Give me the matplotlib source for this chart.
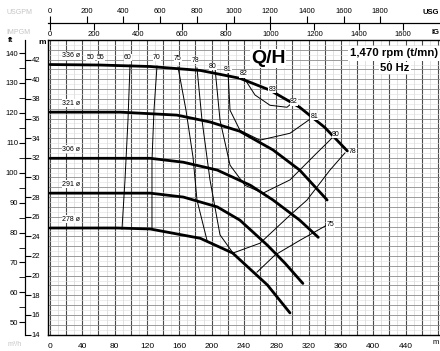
import matplotlib
matplotlib.use("Agg")
import matplotlib.pyplot as plt
import numpy as np

plt.rcParams['font.family'] = ['Liberation Sans', 'DejaVu Sans']

# Q/H curves, flow in m3/h, head in m, one per impeller diameter
q_336 = [0, 62, 124, 186, 235, 272, 309, 340, 368]
h_336 = [41.5, 41.45, 41.3, 40.9, 40.1, 38.9, 37.15, 35.1, 32.7]
q_321 = [0, 87, 157, 198, 235, 276, 309, 343]
h_321 = [36.65, 36.65, 36.35, 35.65, 34.7, 32.8, 30.75, 27.7]
q_306 = [0, 124, 165, 207, 248, 276, 309, 332]
h_306 = [31.95, 31.95, 31.55, 30.75, 29.2, 27.7, 25.65, 23.9]
q_291 = [0, 124, 165, 207, 235, 269, 291, 313]
h_291 = [28.4, 28.4, 28.0, 27.0, 25.65, 23.1, 21.25, 19.2]
q_278 = [0, 83, 124, 186, 226, 269, 297]
h_278 = [24.85, 24.85, 24.75, 23.8, 22.3, 19.05, 16.2]
diameters = ["336", "321", "306", "291", "278"]

# iso-efficiency lines (%)
eff_60_q = [99, 96.5, 92.8, 89.1]
eff_60_h = [41.45, 35.85, 29.75, 24.75]
eff_70_q = [132.4, 128.7, 126.2, 126.2]
eff_70_h = [41.35, 36.85, 31.75, 24.7]
eff_75_q = [158.4, 168.3, 177.0, 181.9, 194.3]
eff_75_h = [41.25, 36.85, 32.05, 27.7, 23.6]
eff_78_q = [181.9, 188.1, 198.0, 210.4, 226.5, 259.9, 297.0, 318.1, 346.5, 365.1]
eff_78_h = [41.15, 35.85, 29.75, 24.15, 22.3, 23.3, 26.15, 27.7, 30.75, 32.5]
eff_80_q = [204.2, 210.4, 222.8, 241.3, 263.6, 297.0, 327.9, 352.6]
eff_80_h = [41.15, 35.85, 31.25, 29.2, 28.4, 29.75, 32.3, 34.3]
eff_81_q = [220.3, 222.8, 235.1, 259.9, 297.0, 325.5]
eff_81_h = [40.75, 36.85, 34.8, 33.8, 34.5, 36.15]
eff_82_q = [238.9, 253.7, 272.3, 293.3, 300.7]
eff_82_h = [40.3, 38.4, 37.35, 37.15, 37.65]
eff_75r_q = [342.8, 309.4, 278.5, 256.2]
eff_75r_h = [25.15, 23.6, 22.1, 20.35]
eff_labels = ["50", "55", "60", "70", "75", "78", "80", "81", "82",
              "83", "82", "81", "80", "78", "75"]
eff_label_q = [50, 63, 96.5, 132.4, 158.4, 179.5, 201.7, 220.3, 239.5,
               275, 302, 327, 354, 375, 347]
eff_label_h = [42.2, 42.2, 42.2, 42.2, 42.1, 41.9, 41.3, 41.0, 40.55,
               39.0, 37.7, 36.2, 34.4, 32.6, 25.2]


# unit conversions for the extra scales
def m2ft(h):
    return h * 3.2808


def ft2m(h):
    return h / 3.2808


def q2usg(q):
    return q * 4.403


def usg2q(q):
    return q / 4.403


def q2ig(q):
    return q * 3.666


def ig2q(q):
    return q / 3.666


fig = plt.figure(figsize=(4.4, 3.51), dpi=100)
ax = fig.add_axes([48 / 440, 16 / 351, 392 / 440, 295 / 351])
ax.set_xlim(-2.5, 482.7)
ax.set_ylim(13.95, 44.0)

# background grid like the scanned paper
for q in np.arange(10, 490, 20):
    ax.axvline(q, color="#d2d2d2", lw=0.45, zorder=0)
for q in np.arange(0, 490, 20):
    ax.axvline(q, color="#4a4a4a", lw=0.8, zorder=0)
for h in np.arange(14.5, 44, 1):
    ax.axhline(h, color="#dedede", lw=0.4, zorder=0)
for h in np.arange(14, 44, 1):
    ax.axhline(h, color="#8c8c8c", lw=0.6, zorder=0)

curves = [(q_336, h_336), (q_321, h_321), (q_306, h_306), (q_291, h_291), (q_278, h_278)]
for (q, h), d in zip(curves, diameters):
    ax.plot(q, h, color="black", lw=2.0, solid_capstyle="round", zorder=3)
    ax.text(15, h[0] + 0.55, d + " ø", fontsize=5, ha="left", va="bottom", zorder=4,
            bbox=dict(facecolor="white", edgecolor="none", pad=0.3))

effs = [(eff_60_q, eff_60_h), (eff_70_q, eff_70_h), (eff_75_q, eff_75_h),
        (eff_78_q, eff_78_h), (eff_80_q, eff_80_h), (eff_81_q, eff_81_h),
        (eff_82_q, eff_82_h), (eff_75r_q, eff_75r_h)]
for q, h in effs:
    ax.plot(q, h, color="black", lw=0.7, zorder=2)
for t, q, h in zip(eff_labels, eff_label_q, eff_label_h):
    ax.text(q, h, t, fontsize=5, ha="center", va="center", zorder=4,
            bbox=dict(facecolor="white", edgecolor="none", pad=0.2))

ax.tick_params(left=False, labelleft=False, bottom=False, labelsize=6, pad=2)
ax.set_xticks(np.arange(0, 441, 40))
ax.spines["right"].set_visible(False)
for s in ax.spines.values():
    s.set_linewidth(1.0)

# left scales: ft and m on one spine
secft = ax.secondary_yaxis(-23 / 392, functions=(m2ft, ft2m))
secft.set_yticks(np.arange(50, 141, 10))
secft.set_yticks(np.arange(50, 145, 5), minor=True)
secft.tick_params(which="both", direction="out", length=4, labelsize=5.5, pad=1)
secm = ax.secondary_yaxis(-23 / 392, functions=(lambda x: x, lambda x: x))
secm.set_alignment("right")
secm.set_yticks(np.arange(14, 43, 2))
secm.tick_params(direction="out", length=4, labelsize=5.5, pad=1)
fig.text(8 / 440, 1 - 40 / 351, "ft", fontsize=5.5, ha="left", va="center", weight="bold")
fig.text(38 / 440, 1 - 43 / 351, "m", fontsize=6, ha="left", va="center", weight="bold")

# top scales: US gpm above, imperial gpm below
top_loc = 1 + 17 / 295
secu = ax.secondary_xaxis(top_loc, functions=(q2usg, usg2q))
secu.set_xticks(np.arange(0, 1801, 200))
secu.tick_params(direction="out", length=5, labelsize=5.5, pad=1)
seci = ax.secondary_xaxis(top_loc, functions=(q2ig, ig2q))
seci.set_alignment("bottom")
seci.set_xticks(np.arange(0, 1601, 200))
seci.tick_params(direction="out", length=5, labelsize=5.5, pad=1)
fig.text(439 / 440, 1 - 13 / 351, "USG", fontsize=5.5, ha="right", va="center", weight="bold")
fig.text(439 / 440, 1 - 33 / 351, "IG", fontsize=5.5, ha="right", va="center", weight="bold")
fig.text(439 / 440, 1 - 343 / 351, "m", fontsize=5.5, ha="right", va="center")
# faint show-through unit names on the left of the scan
fig.text(6 / 440, 1 - 13 / 351, "USGPM", fontsize=5, color="#c4c4c4", ha="left", va="center")
fig.text(6 / 440, 1 - 33 / 351, "IMPGM", fontsize=5, color="#c4c4c4", ha="left", va="center")
fig.text(8 / 440, 1 - 344 / 351, "m³/h", fontsize=5, color="#c4c4c4", ha="left", va="center")

ax.text(270, 42.1, "Q/H", fontsize=14, weight="bold", ha="center", va="center", zorder=5,
        bbox=dict(facecolor="white", edgecolor="none", pad=0.5))
ax.text(0.996, 0.955, "1,470 rpm (t/mn)", transform=ax.transAxes, fontsize=8.2,
        weight="bold", ha="right", va="center", zorder=5,
        bbox=dict(facecolor="white", edgecolor="none", pad=2))
ax.text(0.885, 0.905, "50 Hz", transform=ax.transAxes, fontsize=8,
        weight="bold", ha="center", va="center", zorder=5,
        bbox=dict(facecolor="white", edgecolor="none", pad=1))

fig.savefig("out.png", dpi=100)
